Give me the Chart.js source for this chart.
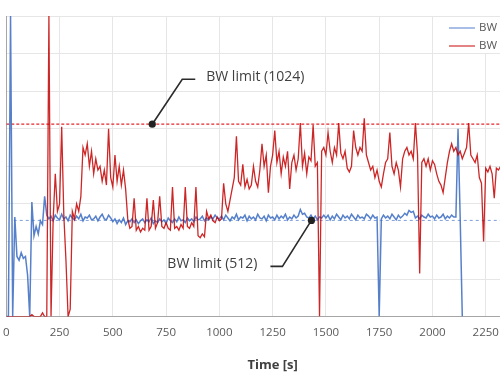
<!DOCTYPE html>
<html>
<head>
<meta charset="utf-8">
<script src="https://cdn.jsdelivr.net/npm/chart.js@4.4.0/dist/chart.umd.min.js"></script>
<style>
  html, body { margin: 0; padding: 0; overflow: hidden; background: #fff; }
  #wrap { width: 560px; height: 383px; }
</style>
</head>
<body>
<div id="wrap"><canvas id="bwChart" width="560" height="383"></canvas></div>
<script>
// sampling interval of both traces, seconds
const sampleStep = 10;

const seriesNames = ['BW (512 limit)', 'BW (1024 limit)'];
const limitValues = [512, 1024];
const limitLabels = ['BW limit (512)', 'BW limit (1024)'];
const xTicks = [0, 250, 500, 750, 1000, 1250, 1500, 1750, 2000, 2250, 2500];

// blue trace, t = 0 .. 2140 s
const blueBW = [
  0, 0, 1600, 0, 530, 320, 300, 340, 310, 320,
  220, 0, 610, 430, 480, 440, 510, 490, 640, 540,
  520, 535, 510, 540, 525, 515, 545, 520, 530, 510,
  540, 525, 515, 535, 520, 545, 510, 530, 525, 540,
  515, 520, 535, 510, 530, 545, 520, 515, 540, 525,
  505, 520, 495, 515, 500, 525, 490, 510, 505, 520,
  500, 515, 495, 510, 520, 500, 515, 505, 525, 495,
  510, 500, 520, 505, 515, 495, 525, 510, 500, 520,
  505, 530, 510, 515, 500, 525, 510, 520, 505, 530,
  515, 520, 535, 510, 525, 515, 530, 520, 540, 525,
  520, 535, 515, 540, 525, 510, 530, 520, 545, 515,
  530, 525, 540, 510, 535, 520, 530, 515, 545, 525,
  520, 535, 510, 540, 525, 530, 515, 540, 520, 535,
  525, 545, 515, 530, 520, 540, 525, 535, 570, 545,
  550, 530, 525, 540, 520, 535, 515, 530, 525, 540,
  525, 540, 515, 535, 520, 545, 530, 515, 540, 525,
  535, 520, 545, 530, 515, 540, 525, 530, 520, 545,
  535, 520, 540, 525, 530, 0, 520, 540, 525, 535,
  520, 545, 530, 515, 540, 525, 535, 550, 540, 565,
  555, 560, 525, 535, 520, 540, 530, 525, 545, 530,
  535, 520, 540, 525, 530, 545, 520, 535, 525, 540,
  530, 530, 1000, 530, 0
];

// red trace, t = 0 .. 2330 s
const redBW = [
  0, 0, 0, 0, 0, 0, 0, 0, 0, 0,
  0, 0, 10, 0, 0, 0, 0, 20, 0, 0,
  1600, 0, 520, 760, 560, 600, 1010, 540, 300, 0,
  40, 560, 520, 600, 560, 640, 900, 860, 920, 800,
  880, 760, 840, 780, 800, 720, 780, 700, 1000, 740,
  690, 860, 720, 800, 700, 780, 680, 520, 470, 480,
  630, 460, 480, 450, 470, 460, 630, 460, 480, 620,
  470, 500, 640, 480, 470, 500, 470, 460, 690, 470,
  480, 460, 490, 470, 690, 480, 470, 500, 480, 690,
  430, 420, 440, 425, 560, 520, 540, 510, 500, 530,
  510, 520, 710, 600, 560, 620, 680, 740, 960, 720,
  700, 810, 690, 730, 680, 700, 800, 720, 690, 780,
  920, 800, 860, 660, 800, 860, 990, 820, 880, 760,
  850, 800, 880, 680, 820, 860, 780, 840, 1030, 800,
  870, 760, 850, 830, 1020, 800, 820, 0, 880, 900,
  860, 980, 880, 820, 900, 860, 1030, 870, 840, 880,
  790, 770, 800, 990, 900, 860, 900, 880, 1055, 860,
  820, 780, 800, 740, 780, 720, 690, 760, 820, 840,
  980, 800, 760, 820, 780, 690, 840, 880, 900, 860,
  880, 840, 1030, 860, 230, 820, 840, 800, 840, 780,
  830, 810, 760, 720, 700, 660, 740, 820, 880, 920,
  880, 900, 860, 880, 840, 870, 900, 1030, 860, 840,
  820, 860, 740, 710, 400, 790, 770, 800, 760, 630,
  790, 780, 800, 770
];

function toPoints(values) {
  return values.map((v, i) => ({ x: i * sampleStep, y: v }));
}

// callouts: anchored on the limit line, leader offsets in px
const callouts = [
  { text: limitLabels[1], t: 685, v: limitValues[1], elbow: [30, -45], end: [43, -45], side: 'right' },
  { text: limitLabels[0], t: 1432, v: limitValues[0], elbow: [-29, 46], end: [-41, 46], side: 'left' }
];

const overlay = {
  id: 'overlay',
  afterDatasetsDraw(chart) {
    const { ctx, chartArea, scales } = chart;
    ctx.save();
    // callouts
    callouts.forEach(c => {
      const px = scales.x.getPixelForValue(c.t);
      const py = scales.y.getPixelForValue(c.v);
      ctx.strokeStyle = '#2b2b2b';
      ctx.lineWidth = 1.6;
      ctx.beginPath();
      ctx.moveTo(px, py);
      ctx.lineTo(px + c.elbow[0], py + c.elbow[1]);
      ctx.lineTo(px + c.end[0], py + c.end[1]);
      ctx.stroke();
      ctx.fillStyle = '#222';
      ctx.beginPath();
      ctx.arc(px, py, 3.6, 0, Math.PI * 2);
      ctx.fill();
      ctx.fillStyle = '#404040';
      ctx.font = '14px "Open Sans"';
      ctx.textBaseline = 'middle';
      if (c.side === 'right') {
        ctx.textAlign = 'left';
        ctx.fillText(c.text, px + c.end[0] + 11, py + c.end[1] - 2);
      } else {
        ctx.textAlign = 'right';
        ctx.fillText(c.text, px + c.end[0] - 13, py + c.end[1] - 2);
      }
    });
    // legend box inside the plot
    const lx = 443, ly = chartArea.top + 1;
    ctx.fillStyle = '#fff';
    ctx.fillRect(lx, ly, chartArea.right - lx, 36);
    const colors = ['#6f93d8', '#d03030'];
    ctx.font = '11.5px "Open Sans"';
    ctx.textAlign = 'left';
    ctx.textBaseline = 'middle';
    seriesNames.forEach((name, i) => {
      const yy = ly + 11 + i * 18;
      ctx.strokeStyle = colors[i];
      ctx.lineWidth = 1.2;
      ctx.beginPath();
      ctx.moveTo(lx + 6, yy);
      ctx.lineTo(lx + 32, yy);
      ctx.stroke();
      ctx.fillStyle = '#595959';
      ctx.fillText(name, lx + 36, yy);
    });
    ctx.restore();
  }
};

new Chart(document.getElementById('bwChart').getContext('2d'), {
  type: 'line',
  data: {
    datasets: [
      {
        label: seriesNames[1],
        data: toPoints(redBW),
        borderColor: 'rgba(196, 0, 0, 0.85)',
        borderWidth: 1.3,
        pointRadius: 0,
        tension: 0,
        order: 0
      },
      {
        label: seriesNames[0],
        data: toPoints(blueBW),
        borderColor: 'rgba(68, 114, 196, 0.9)',
        borderWidth: 1.5,
        pointRadius: 0,
        tension: 0,
        order: 1
      },
      {
        label: limitLabels[1],
        data: [{ x: 0, y: limitValues[1] }, { x: 2500, y: limitValues[1] }],
        borderColor: '#e3262b',
        borderWidth: 1.3,
        borderDash: [3, 2],
        pointRadius: 0,
        order: 2
      },
      {
        label: limitLabels[0],
        data: [{ x: 35, y: limitValues[0] }, { x: 2500, y: limitValues[0] }],
        borderColor: '#7f9fda',
        borderWidth: 1,
        borderDash: [3, 3],
        pointRadius: 0,
        order: 3
      }
    ]
  },
  options: {
    responsive: false,
    animation: false,
    layout: { padding: { left: 6, right: 21, top: 16, bottom: 6 } },
    scales: {
      x: {
        type: 'linear',
        min: 0,
        max: 2500,
        afterBuildTicks: axis => { axis.ticks = xTicks.map(v => ({ value: v })); },
        grid: { color: '#e6e6e6', drawTicks: true, tickLength: 6, tickColor: 'rgba(0,0,0,0)' },
        border: { color: '#a6a6a6' },
        ticks: {
          padding: 3,
          color: '#595959',
          font: { family: 'Open Sans', size: 11.5 },
          maxRotation: 0,
          callback: v => String(v)
        },
        title: {
          display: true,
          text: 'Time [s]',
          color: '#404040',
          font: { family: 'Open Sans', size: 13, weight: 'bold' },
          padding: { top: 15, bottom: 4 }
        }
      },
      y: {
        min: 0,
        max: 1600,
        ticks: { display: false, stepSize: 200, padding: 0 },
        grid: { color: '#e6e6e6', drawTicks: false },
        border: { color: '#a6a6a6' }
      }
    },
    plugins: {
      legend: { display: false },
      tooltip: { enabled: false }
    }
  },
  plugins: [overlay]
});
</script>
</body>
</html>
